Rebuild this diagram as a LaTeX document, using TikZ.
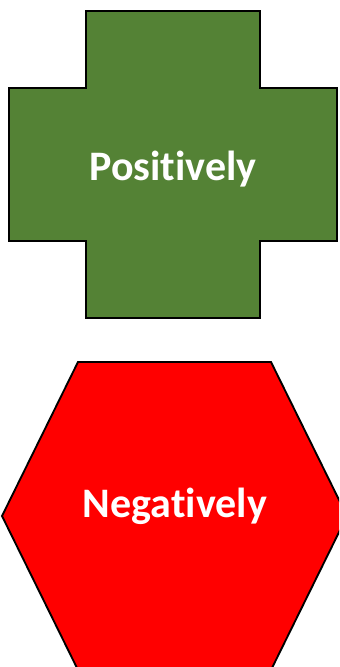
\documentclass[tikz,border=0pt]{standalone}
\usepackage{fontspec}
\setmainfont{Carlito}[Ligatures=NoCommon]
\usepackage{tikz}

\definecolor{crossgreen}{HTML}{548235}
\definecolor{hexred}{HTML}{FF0000}

\begin{document}
\begin{tikzpicture}[x=0.75pt, y=-0.75pt, line join=miter]
		\tikzset{word/.style={text=white, font=\fontsize{31.5}{36}\bfseries\selectfont, anchor=base, inner sep=0pt}}
		\useasboundingbox (0,0) rectangle (339,667);
		\clip (0,0) rectangle (339,667);

		\coordinate (P0) at (173,180);
		\coordinate (N0) at (175,517);

		\filldraw[fill=crossgreen, line width=1.4pt] (86,11) -- (260,11) -- (260,88) -- (337,88) -- (337,241) -- (260,241)
			-- (260,318) -- (86,318) -- (86,241) -- (9,241) -- (9,88) -- (86,88) -- cycle;
		\filldraw[fill=hexred, line width=1.4pt] (78,362) -- (271,362) -- (347,516) -- (271,670) -- (78,670) -- (2,516) -- cycle;

		\node[word] (pos) at (P0) {Positively};
		\node[word] (neg) at (N0) {Negatively};
	\end{tikzpicture}
\end{document}
